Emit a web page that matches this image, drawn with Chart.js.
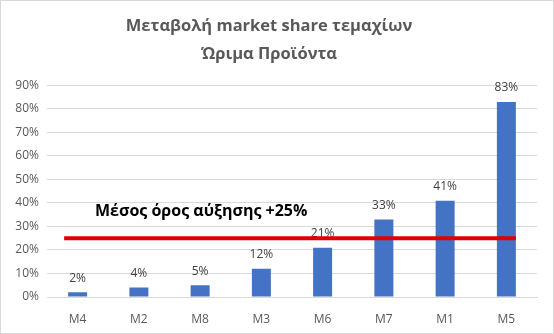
<!DOCTYPE html>
<html>
<head>
<meta charset="utf-8">
<script src="https://cdn.jsdelivr.net/npm/chart.js@4.4.1/dist/chart.umd.min.js"></script>
<style>
  html, body { margin: 0; padding: 0; background: #fff; }
  #wrap { width: 554px; height: 334px; box-sizing: border-box; border: 1px solid #d9d9d9; }
  #chart { display: block; }
</style>
</head>
<body>
<div id="wrap"><canvas id="chart" width="552" height="332"></canvas></div>
<script>
const products = ['M4', 'M2', 'M8', 'M3', 'M6', 'M7', 'M1', 'M5'];
const shareChange = [2, 4, 5, 12, 21, 33, 41, 83];
const avgGrowth = 25;
const avgLabel = 'Μέσος όρος αύξησης +25%';
const titleLines = ['Μεταβολή market share τεμαχίων', 'Ώριμα Προϊόντα'];

const FONT = '"Open Sans", "DejaVu Sans", sans-serif';
const GREY = '#595959';

// value labels above each bar
const barLabels = {
    id: 'barLabels',
    afterDatasetsDraw(chart) {
        const ctx = chart.ctx;
        const meta = chart.getDatasetMeta(0);
        ctx.save();
        ctx.font = '12px ' + FONT;
        ctx.fillStyle = '#404040';
        ctx.textAlign = 'center';
        ctx.textBaseline = 'middle';
        meta.data.forEach((bar, i) => {
            ctx.fillText(shareChange[i] + '%', bar.x, bar.y - 14);
        });
        ctx.restore();
    }
};

// red average line across the bars, with its caption
const avgLine = {
    id: 'avgLine',
    afterDraw(chart) {
        const ctx = chart.ctx;
        const bars = chart.getDatasetMeta(0).data;
        const y = chart.scales.y.getPixelForValue(avgGrowth);
        const first = bars[0], last = bars[bars.length - 1];
        const x0 = first.x - first.width / 2 - 4;
        const x1 = last.x + last.width / 2;
        ctx.save();
        ctx.strokeStyle = '#e00000';
        ctx.lineWidth = 4;
        ctx.beginPath();
        ctx.moveTo(x0, y);
        ctx.lineTo(x1, y);
        ctx.stroke();

        ctx.font = 'bold 16px ' + FONT;
        ctx.fillStyle = '#000';
        ctx.textAlign = 'left';
        ctx.textBaseline = 'middle';
        ctx.fillText(avgLabel, chart.chartArea.left + 48, chart.scales.y.getPixelForValue(36.3));
        ctx.restore();
    }
};

new Chart(document.getElementById('chart'), {
    type: 'bar',
    data: {
        labels: products,
        datasets: [{
            data: shareChange,
            backgroundColor: '#4472c4',
            categoryPercentage: 1,
            barPercentage: 0.31
        }]
    },
    options: {
        responsive: false,
        animation: false,
        layout: { padding: { top: 0, right: 16, bottom: 4, left: 0 } },
        plugins: {
            legend: { display: false },
            tooltip: { enabled: false },
            title: {
                display: true,
                text: titleLines,
                color: GREY,
                font: { family: FONT, size: 16.5, weight: 'bold', lineHeight: 1.65 },
                padding: { top: 12, bottom: 18 }
            }
        },
        scales: {
            x: {
                grid: { display: false },
                border: { display: true, color: '#d9d9d9' },
                ticks: { color: GREY, font: { family: FONT, size: 12 }, padding: 7 },
                afterFit: s => { s.height = 32; }
            },
            y: {
                min: 0,
                max: 90,
                ticks: {
                    stepSize: 10,
                    color: GREY,
                    font: { family: FONT, size: 12 },
                    padding: 8,
                    callback: v => v + '%'
                },
                grid: { color: '#d9d9d9', drawTicks: false },
                border: { display: false },
                afterFit: s => { s.width = 46; }
            }
        }
    },
    plugins: [barLabels, avgLine]
});
</script>
</body>
</html>
